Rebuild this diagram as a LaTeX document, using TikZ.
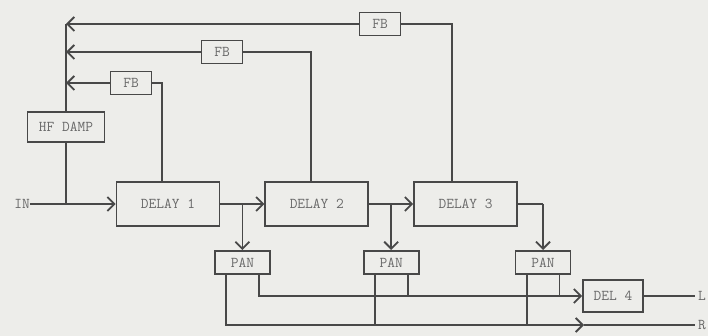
\documentclass[tikz,border=0pt]{standalone}
\usetikzlibrary{positioning,arrows.meta,calc}
\definecolor{PaperGrey}{RGB}{237,237,234}
\definecolor{InkGrey}{RGB}{72,72,72}
\definecolor{TypeGrey}{RGB}{105,105,105}
\tikzset{
  wire/.style={line width=1.8pt,draw=InkGrey},
  flow/.style={wire,-{Straight Barb[length=7pt,width=14pt]}},
  unit/.style={draw=InkGrey,line width=1.8pt,fill=PaperGrey,inner sep=0pt,
    text=TypeGrey,font=\fontsize{15}{17}\selectfont\ttfamily},
  delaybox/.style={unit,minimum width=103pt,minimum height=44pt},
  panbox/.style={unit,minimum width=55pt,minimum height=23pt},
  fbbox/.style={unit,minimum width=41pt,minimum height=23pt},
  portlabel/.style={text=TypeGrey,inner sep=0pt,
    font=\fontsize{15}{17}\selectfont\ttfamily}
}
\begin{document}
\begin{tikzpicture}[x=1pt,y=-1pt]
  \fill[PaperGrey] (0,0) rectangle (708,336);
  \useasboundingbox (0,0) rectangle (708,336);
  % delay chain
  \node[delaybox] (d1) at (168,204) {DELAY 1};
  \node[delaybox,right=44pt of d1] (d2) {DELAY 2};
  \node[delaybox,right=44pt of d2] (d3) {DELAY 3};
  \coordinate (j1) at ($(d1.east)!0.5!(d2.west)$);
  \coordinate (j2) at ($(d2.east)!0.5!(d3.west)$);
  \coordinate[right=25pt of d3.east] (j3);
  \node[panbox,below=46pt of j1] (p1) {PAN};
  \node[panbox,below=46pt of j2] (p2) {PAN};
  \node[panbox,below=46pt of j3] (p3) {PAN};
  % input, damping and feedback
  \node[portlabel] (in) at (22,204) {IN};
  \coordinate (bj) at (66,204);
  \node[unit,minimum width=77pt,minimum height=30pt,above=61pt of bj] (hf) {HF DAMP};
  \node[fbbox] (fb1) at (131,83) {FB};
  \node[fbbox] (fb2) at (222,52) {FB};
  \node[fbbox] (fb3) at (380,24) {FB};
  % output stage
  \node[unit,minimum width=60pt,minimum height=32pt] (del4) at (613,296) {DEL 4};
  \node[portlabel,anchor=west] (lout) at (698,296) {L};
  \node[portlabel,anchor=west] (rout) at (698,325) {R};
  \coordinate (rarr) at (584,325);

  \draw[flow] (in) -- (d1);
  \draw[wire] (hf.south) -- (bj);
  \draw[wire] (hf.north) -- (hf.north |- fb3.west);
  \draw[wire] ([xshift=-6pt]d1.north) |- (fb1.east);
  \draw[wire] ([xshift=-6pt]d2.north) |- (fb2.east);
  \draw[wire] ([xshift=-14pt]d3.north) |- (fb3.east);
  \foreach \f in {fb1,fb2,fb3}
    \draw[flow] (\f.west) -- (\f.west -| hf.north);

  \draw[flow] (d1) -- (d2);
  \draw[flow] (d2) -- (d3);
  \draw[wire] (d3.east) -- (j3);
  \foreach \j/\p in {j1/p1,j2/p2,j3/p3}
    \draw[flow] (\j) -- (\p);

  % pan outputs to L and R
  \draw[flow] ([xshift=-12pt]p1.south east) |- (del4.west);
  \draw[flow] ([xshift=12pt]p1.south west) |- (rarr);
  \draw[wire] (rarr) -- ([xshift=-3pt]rout.west);
  \draw[wire] (del4.east) -- ([xshift=-3pt]lout.west);
  \foreach \p in {p2,p3} {
    \draw[wire] ([xshift=-12pt]\p.south east) -- ([xshift=-12pt]\p.south east |- del4.west);
    \draw[wire] ([xshift=12pt]\p.south west) -- ([xshift=12pt]\p.south west |- rarr);
  }
\end{tikzpicture}
\end{document}
